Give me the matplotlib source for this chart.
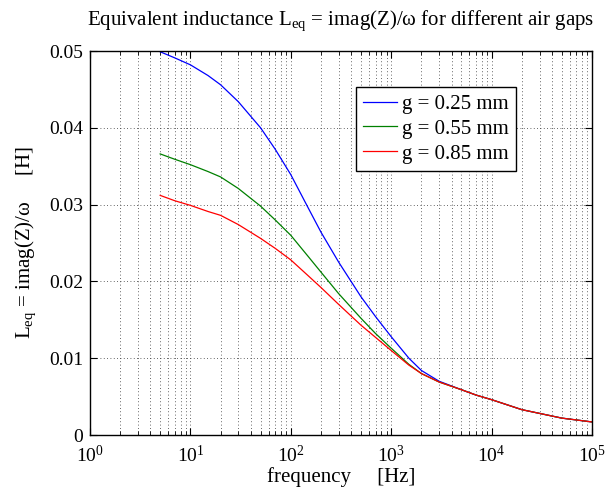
import numpy as np
import matplotlib.pyplot as plt
from matplotlib.ticker import LogLocator, NullFormatter, FixedLocator

plt.rcParams['font.family'] = ['Liberation Serif', 'DejaVu Serif']
plt.rcParams['mathtext.fontset'] = 'custom'
plt.rcParams['mathtext.rm'] = 'Liberation Serif'
plt.rcParams['mathtext.it'] = 'Liberation Serif:italic'

freq = [5, 7, 10, 15, 20, 30, 50, 70, 100, 150, 200, 300, 500, 700, 1000, 1500, 2000,
        3000, 5000, 7000, 1e4, 2e4, 5e4, 1e5]
L_025 = [0.0499, 0.0491, 0.0482, 0.0468, 0.0456, 0.0434, 0.0400, 0.0372, 0.0339, 0.0295,
         0.0264, 0.0225, 0.0180, 0.0154, 0.0128, 0.0100, 0.0084, 0.0070, 0.0059, 0.0052,
         0.0046, 0.0033, 0.0022, 0.0017]
L_055 = [0.0366, 0.0359, 0.0352, 0.0343, 0.0336, 0.0321, 0.0298, 0.0280, 0.0260, 0.0232,
         0.0212, 0.0184, 0.0152, 0.0132, 0.0113, 0.0092, 0.0080, 0.0069, 0.0059, 0.0052,
         0.0046, 0.0033, 0.0022, 0.0017]
L_085 = [0.0312, 0.0305, 0.0299, 0.0291, 0.0286, 0.0274, 0.0256, 0.0243, 0.0228, 0.0207,
         0.0192, 0.0170, 0.0143, 0.0127, 0.0110, 0.0091, 0.0080, 0.0069, 0.0059, 0.0052,
         0.0046, 0.0033, 0.0022, 0.0017]
labels = ['g = 0.25 mm', 'g = 0.55 mm', 'g = 0.85 mm']
colors = ['#0000ff', '#008000', '#ff0000']

fig = plt.figure(figsize=(6.12, 4.88), dpi=100)
ax = fig.add_axes([90/612, 1-435/488, 502/612, 384/488])

for L, lab, c in zip([L_025, L_055, L_085], labels, colors):
    ax.semilogx(freq, L, color=c, lw=0.9, label=lab)

ax.set_xlim(1, 1e5)
ax.set_ylim(0, 0.05)
ax.xaxis.set_major_locator(LogLocator(base=10, numticks=10))
ax.xaxis.set_minor_locator(LogLocator(base=10, subs=np.arange(2, 10), numticks=20))
ax.xaxis.set_minor_formatter(NullFormatter())
ax.yaxis.set_major_locator(FixedLocator([0, 0.01, 0.02, 0.03, 0.04, 0.05]))
ax.set_yticklabels(['0', '0.01', '0.02', '0.03', '0.04', '0.05'])

ax.grid(True, which='major', ls=(0, (1, 3)), color='#333333', lw=0.6)
ax.grid(True, which='minor', axis='x', ls=(0, (1, 3)), color='#333333', lw=0.6)
ax.tick_params(which='both', direction='in', top=True, right=True, labelsize=14)
ax.tick_params(which='major', length=5, width=0.8)
ax.tick_params(which='minor', length=3, width=0.6)
ax.tick_params(axis='x', pad=7)
ax.tick_params(axis='y', pad=5)
for s in ax.spines.values():
    s.set_linewidth(1.0)

ax.set_title(r'Equivalent inductance L$_{\mathrm{eq}}$ = imag(Z)/ω for different air gaps',
             fontsize=15, pad=19)
ax.set_xlabel('frequency     [Hz]', fontsize=15, labelpad=1)
ax.set_ylabel(r'L$_{\mathrm{eq}}$ = imag(Z)/ω     [H]', fontsize=15, labelpad=8)

leg = ax.legend(loc='upper left', bbox_to_anchor=(0.53, 0.906), fontsize=15,
                fancybox=False, framealpha=1, edgecolor='black', borderaxespad=0,
                borderpad=0.35, labelspacing=0.25, handlelength=1.6, handletextpad=0.25)
leg.get_frame().set_linewidth(1.0)

fig.savefig('out.png', dpi=100)
